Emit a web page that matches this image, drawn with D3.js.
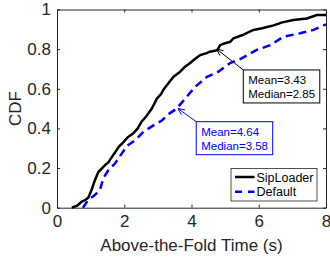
<!DOCTYPE html>
<meta charset="utf-8">
<style>
body { margin: 0; background: white; }
text { font-family: "Liberation Sans", Arial, sans-serif; }
</style>
<body>
<script src="https://d3js.org/d3.v7.min.js"></script>
<script>
// SipLoader CDF (above-the-fold time, s)
var sipX = [0.44, 0.6, 0.73, 0.85, 0.93, 1.03, 1.13, 1.23, 1.4, 1.53, 1.65, 1.73, 1.85, 1.97, 2.1, 2.27, 2.4, 2.52, 2.65, 2.82, 2.97, 3.1, 3.16, 3.3, 3.46, 3.66, 3.8, 3.96, 4.1, 4.26, 4.45, 4.55, 4.77, 4.85, 5.0, 5.15, 5.25, 5.5, 5.84, 6.1, 6.44, 6.7, 7.03, 7.43, 7.73, 8.0]
var sipY = [0, 0.01, 0.03, 0.04, 0.05, 0.09, 0.14, 0.18, 0.21, 0.23, 0.26, 0.28, 0.31, 0.33, 0.355, 0.375, 0.40, 0.435, 0.46, 0.50, 0.55, 0.575, 0.594, 0.625, 0.66, 0.686, 0.71, 0.73, 0.75, 0.77, 0.78, 0.787, 0.795, 0.82, 0.83, 0.837, 0.855, 0.87, 0.897, 0.905, 0.92, 0.935, 0.947, 0.955, 0.972, 0.972]

// Default CDF
var defX = [0.77, 0.93, 1.1, 1.28, 1.38, 1.53, 1.73, 1.93, 2.07, 2.32, 2.57, 2.82, 3.12, 3.3, 3.56, 3.81, 4.11, 4.46, 4.8, 5.15, 5.45, 5.94, 6.34, 6.74, 7.23, 7.63, 8.0]
var defY = [0.0, 0.04, 0.06, 0.09, 0.15, 0.19, 0.224, 0.274, 0.31, 0.34, 0.383, 0.41, 0.44, 0.47, 0.50, 0.55, 0.61, 0.66, 0.686, 0.73, 0.75, 0.796, 0.82, 0.863, 0.88, 0.897, 0.925]

var xTicks = [0, 2, 4, 6, 8]
var yTicks = [0, 0.2, 0.4, 0.6, 0.8, 1]
var seriesNames = ['SipLoader', 'Default']
var notes = [
    { lines: ['Mean=3.43', 'Median=2.85'], tip: [4.75, 0.80], box: [5.54, 0.695], color: 'black' },
    { lines: ['Mean=4.64', 'Median=3.58'], tip: [3.6, 0.50], box: [4.14, 0.434], color: '#0000ff' }
]

var width = 330, height = 262
var margin = { left: 57, right: 4, top: 9.5, bottom: 54.3 }

var x = d3.scaleLinear().domain([0, 8]).range([margin.left, width - margin.right])
var y = d3.scaleLinear().domain([0, 1]).range([height - margin.bottom, margin.top])

var svg = d3.select('body').append('svg')
    .attr('width', width)
    .attr('height', height)

svg.append('g')
    .attr('transform', 'translate(0,' + y(0) + ')')
    .call(d3.axisBottom(x).tickValues(xTicks).tickSizeInner(-3).tickSizeOuter(0).tickPadding(7).tickFormat(d3.format('d')))
    .call(styleAxis)

svg.append('g')
    .attr('transform', 'translate(0,' + y(1) + ')')
    .call(d3.axisTop(x).tickValues(xTicks).tickSizeInner(-3).tickSizeOuter(0).tickFormat(''))
    .call(styleAxis)

svg.append('g')
    .attr('transform', 'translate(' + x(0) + ',0)')
    .call(d3.axisLeft(y).tickValues(yTicks).tickSizeInner(-3).tickSizeOuter(0).tickPadding(6).tickFormat(String))
    .call(styleAxis)

svg.append('g')
    .attr('transform', 'translate(' + x(8) + ',0)')
    .call(d3.axisRight(y).tickValues(yTicks).tickSizeInner(-3).tickSizeOuter(0).tickFormat(''))
    .call(styleAxis)

function styleAxis(g) {
    g.select('.domain').attr('stroke', '#262626').attr('stroke-width', 1)
    g.selectAll('.tick line').attr('stroke', '#262626')
    g.selectAll('.tick text').attr('fill', '#262626').style('font-size', '17px')
}

svg.append('text')
    .attr('x', (x(0) + x(8)) / 2)
    .attr('y', 251)
    .attr('text-anchor', 'middle')
    .attr('fill', '#262626')
    .style('font-size', '17px')
    .text('Above-the-Fold Time (s)')

svg.append('text')
    .attr('transform', 'translate(21,' + y(0.5) + ') rotate(-90)')
    .attr('text-anchor', 'middle')
    .attr('fill', '#262626')
    .style('font-size', '17px')
    .text('CDF')

var line = d3.line()
    .x(function (d) { return x(d[0]) })
    .y(function (d) { return y(d[1]) })

svg.append('path')
    .datum(defX.map(function (v, i) { return [v, defY[i]] }))
    .attr('d', line)
    .attr('fill', 'none')
    .attr('stroke', '#0000ff')
    .attr('stroke-width', 2.5)
    .attr('stroke-dasharray', '8,5')

svg.append('path')
    .datum(sipX.map(function (v, i) { return [v, sipY[i]] }))
    .attr('d', line)
    .attr('fill', 'none')
    .attr('stroke', 'black')
    .attr('stroke-width', 2.5)

// annotations
notes.forEach(function (n) {
    var bx = x(n.box[0]), by = y(n.box[1])
    var tx = x(n.tip[0]), ty = y(n.tip[1])
    var ang = Math.atan2(ty - by, tx - bx)
    var hl = 7, hw = 0.45
    svg.append('line')
        .attr('x1', bx).attr('y1', by).attr('x2', tx).attr('y2', ty)
        .attr('stroke', n.color).attr('stroke-width', 1)
    svg.append('path')
        .attr('d', 'M' + (tx - hl * Math.cos(ang - hw)) + ',' + (ty - hl * Math.sin(ang - hw)) +
            'L' + tx + ',' + ty +
            'L' + (tx - hl * Math.cos(ang + hw)) + ',' + (ty - hl * Math.sin(ang + hw)))
        .attr('fill', 'none').attr('stroke', n.color).attr('stroke-width', 1)
    svg.append('rect')
        .attr('x', bx).attr('y', by).attr('width', 76.5).attr('height', 33)
        .attr('fill', 'white').attr('stroke', n.color).attr('stroke-width', 1)
    n.lines.forEach(function (t, i) {
        svg.append('text')
            .attr('x', bx + 5).attr('y', by + 14.5 + i * 13.5)
            .attr('fill', n.color)
            .style('font-size', '11.5px')
            .text(t)
    })
})

// legend
var legend = svg.append('g').attr('transform', 'translate(231,168.5)')
legend.append('rect')
    .attr('width', 86).attr('height', 32.5)
    .attr('fill', 'white').attr('stroke', '#262626').attr('stroke-width', 0.8)
seriesNames.forEach(function (name, i) {
    var ly = 8.5 + i * 14.7
    legend.append('line')
        .attr('x1', 4).attr('x2', 23.5).attr('y1', ly).attr('y2', ly)
        .attr('stroke', i === 0 ? 'black' : '#0000ff')
        .attr('stroke-width', 2.5)
        .attr('stroke-dasharray', i === 0 ? null : '7,6')
    legend.append('text')
        .attr('x', 25.5).attr('y', ly + 4.5)
        .attr('fill', 'black')
        .style('font-size', '12.5px')
        .text(name)
})
</script>
</body>
